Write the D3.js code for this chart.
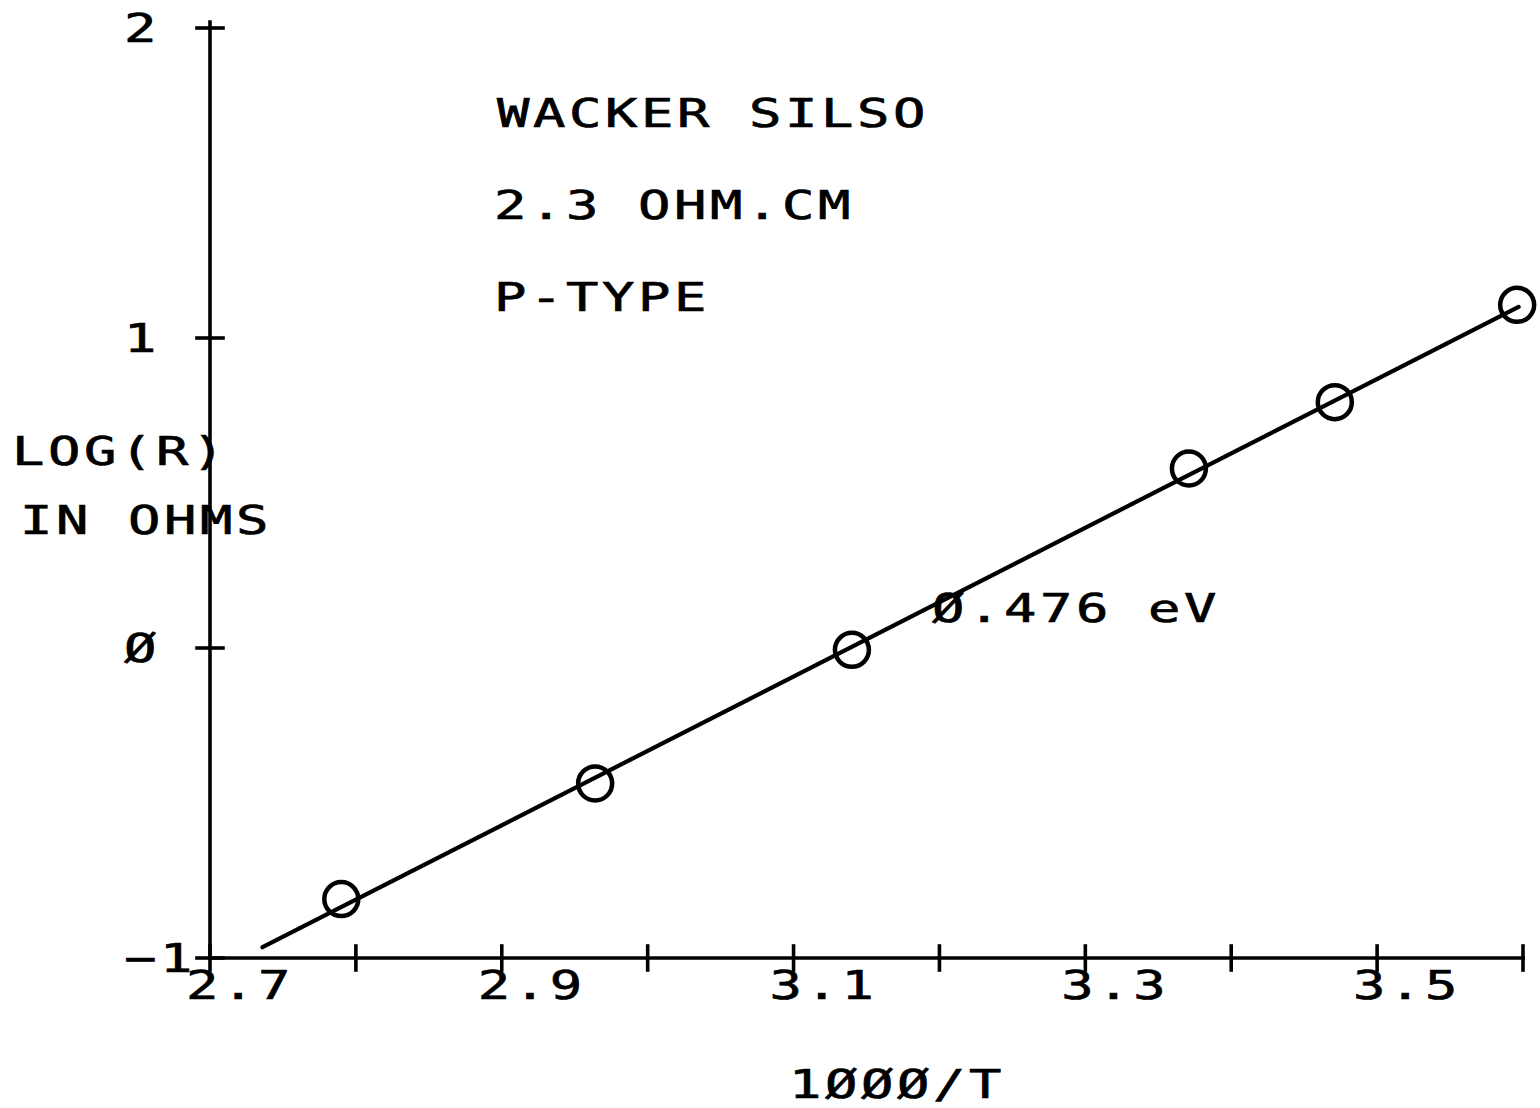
<!DOCTYPE html>
<html>
<head>
<meta charset="utf-8">
<script src="https://cdn.jsdelivr.net/npm/d3@7"></script>
<style>
  html, body { margin: 0; padding: 0; background: #fff; }
  svg { display: block; }
  .plot-text { font-family: "DejaVu Sans Mono", monospace; font-size: 39px; fill: #000; stroke: #000; stroke-width: 0.7px; }
</style>
</head>
<body>
<svg id="chart" width="1540" height="1108"></svg>
<script>
// Arrhenius plot of resistance: log10(R) against 1000/T
const invT = [2.790, 2.964, 3.140, 3.371, 3.471, 3.596];
const logR = [-0.81, -0.437, -0.006, 0.579, 0.793, 1.107];

// Fitted line, drawn from the activation energy printed on the plot
const activationEV = 0.476;
const fitX = [2.736, 3.597];
const fitAnchor = [3.140, 0.004];

const xTicks = [2.7, 2.8, 2.9, 3.0, 3.1, 3.2, 3.3, 3.4, 3.5, 3.6];
const xTickLabels = ["2.7", "", "2.9", "", "3.1", "", "3.3", "", "3.5", ""];
const yTicks = [-1, 0, 1, 2];
const yTickLabels = ["−1", "Ø", "1", "2"];

const notes = ["WACKER SILSO", "2.3 OHM.CM", "P-TYPE"];
const yTitle = ["LOG(R)", "IN OHMS"];
const xTitle = "1ØØØ/T";
const fitLabel = "Ø.476 eV";

const svg = d3.select("#chart");
const x = d3.scaleLinear().domain([2.7, 3.6]).range([210, 1523]);
const y = d3.scaleLinear().domain([-1, 2]).range([958, 28]);

// wide, evenly pitched plotter lettering
const FS = 39, SX = 1.38, PITCH = 36;
function plotText(px, py, str) {
  return svg.append("text")
    .attr("class", "plot-text")
    .attr("transform", `translate(${px},${py}) scale(${SX},1)`)
    .attr("letter-spacing", (PITCH / SX - FS * 0.602) + "px")
    .text(str);
}

// axes
const xAxis = svg.append("g")
  .attr("transform", `translate(0,${y(-1)})`)
  .call(d3.axisBottom(x).tickValues(xTicks).tickSize(0).tickFormat(""));
xAxis.select(".domain").remove();
xAxis.selectAll(".tick line").remove();

const yAxis = svg.append("g")
  .attr("transform", `translate(${x(2.7)},0)`)
  .call(d3.axisLeft(y).tickValues(yTicks).tickSize(0).tickFormat(""));
yAxis.select(".domain").remove();
yAxis.selectAll(".tick line").remove();

function line(x1, y1, x2, y2) {
  return svg.append("line")
    .attr("x1", x1).attr("y1", y1).attr("x2", x2).attr("y2", y2)
    .attr("stroke", "#000").attr("stroke-width", 3.6).attr("stroke-linecap", "square");
}
line(x(2.7), y(-1), x(3.6), y(-1));
line(x(2.7), y(-1), x(2.7), y(2) - 6);
xTicks.forEach(v => line(x(v), y(-1) - 12, x(v), y(-1) + 12));
yTicks.forEach(v => line(x(2.7) - 13, y(v), x(2.7) + 13, y(v)));

// tick labels
xTicks.forEach((v, i) => {
  if (xTickLabels[i]) plotText(x(v) - 24, y(-1) + 41, xTickLabels[i]);
});
yTicks.forEach((v, i) => plotText(124, y(v) + 14, yTickLabels[i]));

// fit line from the slope implied by the activation energy
const kB = 8.617e-5;
const slope = activationEV / (Math.LN10 * kB * 1000);
const fitY = fitX.map(v => fitAnchor[1] + slope * (v - fitAnchor[0]));
svg.append("line")
  .attr("x1", x(fitX[0])).attr("y1", y(fitY[0]))
  .attr("x2", x(fitX[1])).attr("y2", y(fitY[1]))
  .attr("stroke", "#000").attr("stroke-width", 4.2).attr("stroke-linecap", "round");

// measured points
svg.append("g").selectAll("circle")
  .data(invT.map((v, i) => [v, logR[i]]))
  .join("circle")
  .attr("cx", d => x(d[0]))
  .attr("cy", d => y(d[1]))
  .attr("r", 17)
  .attr("fill", "none")
  .attr("stroke", "#000")
  .attr("stroke-width", 4.5);

// annotations
plotText(497, 127, notes[0]);
plotText(494, 219, notes[1]);
plotText(494, 311, notes[2]);
plotText(12, 465, yTitle[0]);
plotText(20, 534, yTitle[1]);
plotText(932, 622, fitLabel);
plotText(789, 1098, xTitle);
</script>
</body>
</html>
